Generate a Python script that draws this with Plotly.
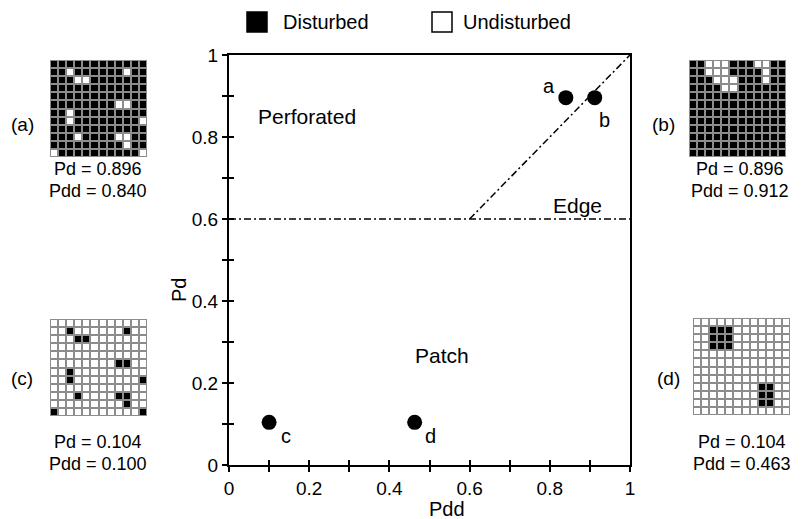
import plotly.graph_objects as go

# ---------------- data ----------------
point_names = ["a", "b", "c", "d"]
pdd_values = [0.840, 0.912, 0.100, 0.463]
pd_values = [0.896, 0.896, 0.104, 0.104]

edge_h_x = [0.0, 1.0]
edge_h_y = [0.6, 0.6]
edge_d_x = [0.6, 1.0]
edge_d_y = [0.6, 1.0]

region_labels = ["Perforated", "Edge", "Patch"]
region_x = [0.195, 0.87, 0.53]
region_y = [0.851, 0.632, 0.268]

grid_size = 12
# undisturbed cells (row, col) in landscape (a); landscape (c) is its inverse
cells_a_undisturbed = [(1, 2), (1, 9), (2, 3), (2, 4), (5, 8), (5, 9), (6, 2), (7, 2),
                       (7, 11), (9, 3), (9, 8), (9, 9), (10, 9), (11, 0), (11, 11)]
cells_b_undisturbed = [(0, 2), (0, 3), (0, 4), (0, 8), (0, 9), (1, 2), (1, 3), (1, 4),
                       (1, 9), (2, 3), (2, 4), (2, 5), (2, 9), (3, 4), (3, 5)]
cells_c_disturbed = cells_a_undisturbed
cells_d_disturbed = [(1, 2), (1, 3), (1, 4), (2, 2), (2, 3), (2, 4), (3, 2), (3, 3), (3, 4),
                     (8, 8), (8, 9), (9, 8), (9, 9), (10, 8), (10, 9)]

panel_tags = ["(a)", "(b)", "(c)", "(d)"]
panel_pd = ["Pd = 0.896", "Pd = 0.896", "Pd = 0.104", "Pd = 0.104"]
panel_pdd = ["Pdd = 0.840", "Pdd = 0.912", "Pdd = 0.100", "Pdd = 0.463"]

legend_names = ["Disturbed", "Undisturbed"]
legend_fill = ["black", "white"]

x_ticks = [0, 0.2, 0.4, 0.6, 0.8, 1]
y_ticks = [0, 0.2, 0.4, 0.6, 0.8, 1]

# ---------------- build ----------------
W, H = 806, 519
FONT = "Liberation Sans, Arial, sans-serif"
PLOT_L, PLOT_R, PLOT_T, PLOT_B = 229, 630, 55, 465


def px_x(p):
    return p / W


def px_y(p):
    return 1 - p / H


def make_grid(cells, base, mark):
    z = [[base] * grid_size for _ in range(grid_size)]
    for r, c in cells:
        z[r][c] = mark
    return z


grids = [
    make_grid(cells_a_undisturbed, 1, 0),
    make_grid(cells_b_undisturbed, 1, 0),
    make_grid(cells_c_disturbed, 0, 1),
    make_grid(cells_d_disturbed, 0, 1),
]

# pixel boxes for the four landscapes: (x0, x1, ytop, ybottom)
grid_boxes = [(50, 147, 60, 157), (689, 786, 60, 157),
              (50, 147, 319, 416), (693, 790, 318, 415)]
tag_pos = [(22, 125), (663, 125), (22, 378), (668, 378)]
text_cx = [98, 740, 98, 742]
text_y1 = [169, 169, 442, 442]

fig = go.Figure()

# threshold lines
fig.add_trace(go.Scatter(x=edge_h_x, y=edge_h_y, mode="lines", showlegend=False,
                         line=dict(color="black", width=1.5, dash="7px,3px,2px,3px")))
fig.add_trace(go.Scatter(x=edge_d_x, y=edge_d_y, mode="lines", showlegend=False,
                         line=dict(color="black", width=1.5, dash="7px,3px,2px,3px")))

# points
fig.add_trace(go.Scatter(x=pdd_values, y=pd_values, mode="markers", showlegend=False,
                         marker=dict(size=15, color="black")))

# empty traces so the inner-tick overlay axes are drawn
fig.add_trace(go.Scatter(x=[None], y=[None], xaxis="x6", yaxis="y", showlegend=False,
                         hoverinfo="skip"))
fig.add_trace(go.Scatter(x=[None], y=[None], xaxis="x", yaxis="y6", showlegend=False,
                         hoverinfo="skip"))

label_shift = {"a": (-17, 12), "b": (10, -22), "c": (17, -14), "d": (16, -14)}
for n, xv, yv in zip(point_names, pdd_values, pd_values):
    dx, dy = label_shift[n]
    fig.add_annotation(x=xv, y=yv, text=n, showarrow=False, xshift=dx, yshift=dy,
                       font=dict(size=20, family=FONT, color="black"))

for t, xv, yv in zip(region_labels, region_x, region_y):
    fig.add_annotation(x=xv, y=yv, text=t, showarrow=False,
                       font=dict(size=21, family=FONT, color="black"))

# landscape grids
for i, (z, box) in enumerate(zip(grids, grid_boxes)):
    k = i + 2
    x0, x1, yt, yb = box
    fig.add_trace(go.Heatmap(z=z, xaxis=f"x{k}", yaxis=f"y{k}", showscale=False,
                             colorscale=[[0, "white"], [1, "black"]], zmin=0, zmax=1,
                             xgap=2, ygap=2, hoverinfo="skip"))
    fig.update_layout(**{
        f"xaxis{k}": dict(domain=[px_x(x0), px_x(x1)], range=[-0.5, grid_size - 0.5],
                          visible=False, anchor=f"y{k}"),
        f"yaxis{k}": dict(domain=[px_y(yb), px_y(yt)], range=[grid_size - 0.5, -0.5],
                          visible=False, anchor=f"x{k}"),
    })
    fig.add_shape(type="rect", xref=f"x{k}", yref=f"y{k}", x0=-0.5, x1=grid_size - 0.5,
                  y0=-0.5, y1=grid_size - 0.5, layer="below",
                  fillcolor="#8c8c8c", line=dict(color="#8c8c8c", width=2))
    tx, ty = tag_pos[i]
    fig.add_annotation(xref="paper", yref="paper", x=px_x(tx), y=px_y(ty), text=panel_tags[i],
                       xanchor="center", yanchor="middle", showarrow=False,
                       font=dict(size=19, family=FONT, color="black"))
    fig.add_annotation(xref="paper", yref="paper", x=px_x(text_cx[i]), y=px_y(text_y1[i]),
                       xanchor="center", yanchor="middle",
                       text=panel_pd[i], showarrow=False,
                       font=dict(size=18, family=FONT, color="black"))
    fig.add_annotation(xref="paper", yref="paper", x=px_x(text_cx[i]), y=px_y(text_y1[i] + 22),
                       xanchor="center", yanchor="middle",
                       text=panel_pdd[i], showarrow=False,
                       font=dict(size=18, family=FONT, color="black"))

# legend (swatches + labels)
sw_left = [247, 432]
lab_left = [281, 461]
for name, fill, sx, lx in zip(legend_names, legend_fill, sw_left, lab_left):
    fig.add_shape(type="rect", xref="paper", yref="paper",
                  x0=px_x(sx), x1=px_x(sx + 20), y0=px_y(32), y1=px_y(12),
                  fillcolor=fill, line=dict(color="black", width=1.5))
    fig.add_annotation(xref="paper", yref="paper", x=px_x(lx), y=px_y(22), text=name,
                       xanchor="left", yanchor="middle", showarrow=False,
                       font=dict(size=20, family=FONT, color="black"))

# axis titles
fig.add_annotation(xref="paper", yref="paper", x=px_x(447), y=px_y(509), text="Pdd",
                   xanchor="center", yanchor="middle", showarrow=False,
                   font=dict(size=20, family=FONT, color="black"))
fig.add_annotation(xref="paper", yref="paper", x=px_x(179), y=px_y(290), text="Pd",
                   xanchor="center", yanchor="middle", showarrow=False, textangle=-90,
                   font=dict(size=20, family=FONT, color="black"))

TICK_LEN = 5
axis_common = dict(range=[0, 1], showgrid=False, zeroline=False, showline=True,
                   linecolor="black", linewidth=2, mirror=True, ticks="outside",
                   ticklen=TICK_LEN, tickwidth=2, tickcolor="black", automargin=False,
                   minor=dict(dtick=0.1, ticks="outside", ticklen=TICK_LEN, tickwidth=2,
                              tickcolor="black"),
                   tickfont=dict(size=19, family=FONT, color="black"))
inner_common = dict(range=[0, 1], showgrid=False, zeroline=False, showline=False,
                    ticks="inside", ticklen=TICK_LEN, tickwidth=2, tickcolor="black",
                    showticklabels=False, automargin=False,
                    minor=dict(dtick=0.1, ticks="inside", ticklen=TICK_LEN, tickwidth=2,
                               tickcolor="black"))

fig.update_layout(
    width=W, height=H,
    margin=dict(l=0, r=0, t=0, b=0),
    paper_bgcolor="white", plot_bgcolor="white",
    font=dict(family=FONT, size=18, color="black"),
    xaxis=dict(domain=[px_x(PLOT_L), px_x(PLOT_R)], tickvals=x_ticks, **axis_common),
    yaxis=dict(domain=[px_y(PLOT_B), px_y(PLOT_T)], tickvals=y_ticks, **axis_common),
    xaxis6=dict(overlaying="x", anchor="y", side="bottom", tickvals=x_ticks, **inner_common),
    yaxis6=dict(overlaying="y", anchor="x", side="left", tickvals=y_ticks, **inner_common),
    showlegend=False,
)

fig.write_html("out.html", config={"displayModeBar": False},
               post_script="document.body.style.margin='0';document.body.style.overflow='hidden';")
